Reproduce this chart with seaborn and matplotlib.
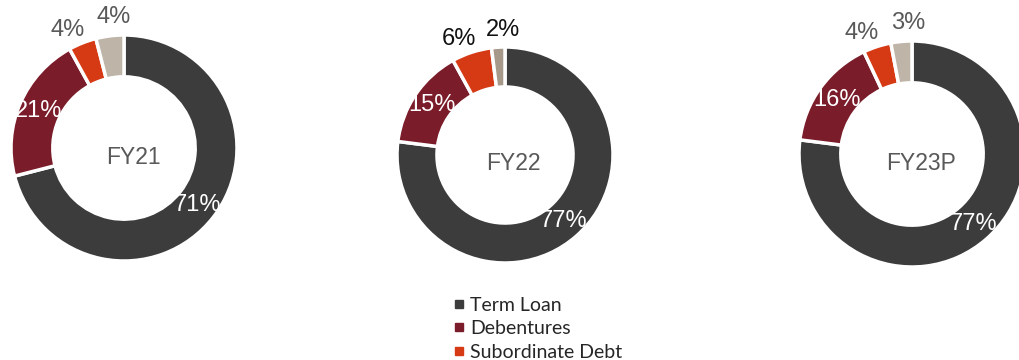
import matplotlib
matplotlib.use("Agg")
import matplotlib.pyplot as plt
from matplotlib.lines import Line2D
import numpy as np
import seaborn as sns

# Borrowing mix by year (% of total)
years = ["FY21", "FY22", "FY23P"]
categories = ["Term Loan", "Debentures", "Subordinate Debt", "Others"]
term_loan = [71, 77, 77]
debentures = [21, 15, 16]
subordinate_debt = [4, 6, 4]
others = [4, 2, 3]

sns.set_theme(style="white")
plt.rcParams["font.family"] = ["Liberation Sans", "DejaVu Sans"]

colors = ["#3C3C3C", "#7A1C29", "#D63A15", "#BEB4A7"]
others_colors = ["#BEB4A7", "#A7998A", "#BEB4A7"]
small_label_colors = ["#595959", "#111111", "#595959"]

W, H = 1020, 360
fig = plt.figure(figsize=(W / 100, H / 100), dpi=100)

# donut centres and radii in pixels (x from left, y from top)
layout = [(124, 148, 113), (505, 155, 108), (912, 154, 113)]

for i, year in enumerate(years):
    cx, cy, r = layout[i]
    ax = fig.add_axes([(cx - r) / W, (H - cy - r) / H, 2 * r / W, 2 * r / H])
    vals = [term_loan[i], debentures[i], subordinate_debt[i], others[i]]
    cols = colors[:3] + [others_colors[i]]
    wedges, _ = ax.pie(
        vals, colors=cols, startangle=90, counterclock=False, radius=1.0,
        wedgeprops=dict(width=0.37, edgecolor="white", linewidth=2.5),
    )
    ax.set_xlim(-1, 1)
    ax.set_ylim(-1, 1)
    ax.set_aspect("equal")
    ax.axis("off")

    mids = [(w.theta1 + w.theta2) / 2 for w in wedges]
    # the two thin slices sit side by side: fan their outside labels apart
    small = [j for j, v in enumerate(vals) if v < 10]
    if len(small) == 2:
        a, b = sorted(small, key=lambda j: mids[j])
        centre = (mids[a] + mids[b]) / 2
        mids[a] = centre - 10
        mids[b] = centre + 11

    for j, v in enumerate(vals):
        ang = np.deg2rad(mids[j])
        if v >= 10:
            rr, col = 0.82, "white"
        else:
            rr, col = 1.16, small_label_colors[i]
        ax.text(rr * np.cos(ang), rr * np.sin(ang), f"{v}%", ha="center",
                va="center", fontsize=17, color=col)

    ax.text(0.08, -0.08, year, ha="center", va="center", fontsize=16.5,
            color="#595959")

handles = [Line2D([0], [0], marker="s", linestyle="none", markersize=6,
                  markerfacecolor=c, markeredgecolor=c) for c in colors[:3]]
fig.legend(handles, categories[:3], loc="upper left",
           bbox_to_anchor=(443 / W, 1 - 287 / H), frameon=False,
           prop=dict(family="Lato", size=14), handlelength=0.6,
           handletextpad=0.3, labelspacing=0.33, borderpad=0)

fig.savefig("out.png", dpi=100)
